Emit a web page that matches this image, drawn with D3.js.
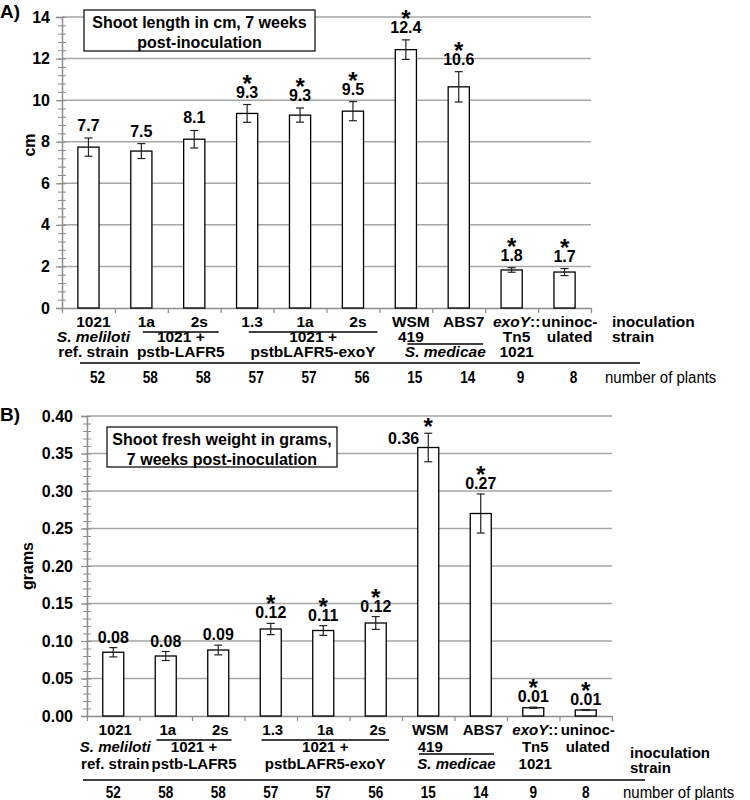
<!DOCTYPE html>
<html>
<head>
<meta charset="utf-8">
<script src="https://cdn.jsdelivr.net/npm/d3@7"></script>
<style>
  body { margin: 0; background: #fff; }
  svg text { font-family: "Liberation Sans", Arial, sans-serif; font-weight: bold; font-size: 16px; fill: #000; }
  svg text.val { font-size: 16px; }
</style>
</head>
<body>
<svg id="chart" width="750" height="800"></svg>
<script>
"use strict"

// x categories: label lines under each bar (*...* = italic)
const strainLines = [
  ["1021", "*S. meliloti*", "ref. strain"],
  ["1a"], ["2s"],
  ["1.3"], ["1a"], ["2s"],
  ["WSM", "419"],
  ["ABS7"],
  ["*exoY*::", "Tn5", "1021"],
  ["uninoc-", "ulated"]
]
// labels spanning several bars
const strainGroups = [
  {first: 1, last: 2, row: 1, lines: ["1021 +", "pstb-LAFR5"]},
  {first: 3, last: 5, row: 1, lines: ["1021 +", "pstbLAFR5-exoY"]},
  {first: 6, last: 7, row: 2, lines: ["*S. medicae*"]}
]
const plantCounts = [52, 58, 58, 57, 57, 56, 15, 14, 9, 8]
const significant = [false, false, false, true, true, true, true, true, true, true]

// A) shoot length, cm
const lengthMeans  = [7.74, 7.55, 8.12, 9.36, 9.28, 9.47, 12.43, 10.64, 1.83, 1.73]
const lengthErrors = [0.44, 0.36, 0.42, 0.43, 0.34, 0.46, 0.47, 0.73, 0.11, 0.17]
const lengthLabels = ["7.7", "7.5", "8.1", "9.3", "9.3", "9.5", "12.4", "10.6", "1.8", "1.7"]

// B) shoot fresh weight, grams
const weightMeans  = [0.085, 0.080, 0.088, 0.116, 0.114, 0.124, 0.358, 0.270, 0.011, 0.008]
const weightErrors = [0.0062, 0.006, 0.0065, 0.0075, 0.0065, 0.0085, 0.019, 0.026, 0.0008, 0.0006]
const weightLabels = ["0.08", "0.08", "0.09", "0.12", "0.11", "0.12", "0.36", "0.27", "0.01", "0.01"]

const svg = d3.select("#chart")

function richText(sel, str) {
  str.split("*").forEach((part, i) => {
    if (part) sel.append("tspan").text(part).style("font-style", i % 2 ? "italic" : "normal")
  })
}

function drawPanel(p) {
  const n = strainLines.length
  const x = d3.scaleBand().domain(d3.range(n)).range([p.left, p.right]).paddingInner(0.6).paddingOuter(0.3)
  const xEdge = d3.scaleLinear().domain([0, n]).range([p.left, p.right])
  const y = d3.scaleLinear().domain([0, p.max]).range([p.bottom, p.top])
  const cx = i => x(i) + x.bandwidth() / 2

  const majors = d3.range(0, Math.round(p.max / p.major) + 1).map(i => i * p.major)
  const minors = d3.range(0, Math.round(p.max / p.minor) + 1).map(i => i * p.minor)

  const g = svg.append("g")

  // gridlines
  g.append("g").selectAll("line")
    .data(majors.filter(v => v > 0))
    .join("line")
      .attr("x1", p.left).attr("x2", p.right)
      .attr("y1", d => y(d)).attr("y2", d => y(d))
      .attr("stroke", "#a6a6a6").attr("stroke-width", 1.5)

  // minor ticks crossing the axis
  g.append("g")
    .attr("transform", `translate(${p.left + 4},0)`)
    .call(d3.axisLeft(y).tickValues(minors).tickSize(8).tickFormat(""))
    .call(a => a.select(".domain").remove())
    .call(a => a.selectAll("line").attr("stroke", "#8c8c8c"))

  // major ticks + labels
  g.append("g")
    .attr("transform", `translate(${p.left},0)`)
    .call(d3.axisLeft(y).tickValues(majors).tickSize(6).tickPadding(p.tickPad).tickFormat(p.fmt))
    .call(a => a.select(".domain").attr("stroke", "#8c8c8c").attr("stroke-width", 1.5))
    .call(a => a.selectAll("line").attr("stroke", "#8c8c8c").attr("stroke-width", 1.2))
    .call(a => a.selectAll("text").attr("font-size", null).attr("font-family", null).style("font-size", "16px"))

  // x axis with ticks between categories
  g.append("g")
    .attr("transform", `translate(0,${p.bottom})`)
    .call(d3.axisBottom(xEdge).tickValues(d3.range(n + 1)).tickSize(5).tickSizeOuter(0).tickFormat(""))
    .call(a => a.select(".domain").attr("stroke", "#8c8c8c").attr("stroke-width", 1.5))
    .call(a => a.selectAll("line").attr("stroke", "#8c8c8c").attr("stroke-width", 1.2))

  // title box
  g.append("rect")
    .attr("x", p.box.x).attr("y", p.box.y).attr("width", p.box.w).attr("height", p.box.h)
    .attr("fill", "#fff").attr("stroke", "#000").attr("stroke-width", 1.2)
  g.append("g").selectAll("text")
    .data(p.box.lines)
    .join("text")
      .attr("x", p.box.x + p.box.w / 2)
      .attr("y", (d, i) => p.box.y + 18 + i * 20)
      .attr("text-anchor", "middle")
      .text(d => d)

  // panel letter and y title
  g.append("text").attr("x", 0).attr("y", p.letterY).style("font-size", "19px").text(p.letter)
  g.append("text")
    .attr("transform", `translate(${p.titleX},${p.titleY}) rotate(-90)`)
    .attr("text-anchor", "middle")
    .text(p.yTitle)

  // bars
  g.append("g").selectAll("rect")
    .data(p.means)
    .join("rect")
      .attr("x", (d, i) => x(i))
      .attr("y", d => y(d))
      .attr("width", x.bandwidth())
      .attr("height", d => y(0) - y(d))
      .attr("fill", "#fff").attr("stroke", "#000").attr("stroke-width", 1.3)

  // error bars
  const eb = g.append("g").attr("stroke", "#222").attr("stroke-width", 1.2)
  p.means.forEach((m, i) => {
    const e = p.errors[i]
    eb.append("line").attr("x1", cx(i)).attr("x2", cx(i)).attr("y1", y(m + e)).attr("y2", y(m - e))
    eb.append("line").attr("x1", cx(i) - 4).attr("x2", cx(i) + 4).attr("y1", y(m + e)).attr("y2", y(m + e))
    eb.append("line").attr("x1", cx(i) - 4).attr("x2", cx(i) + 4).attr("y1", y(m - e)).attr("y2", y(m - e))
  })

  // value labels and significance stars
  const star = (xx, yy) => g.append("text").attr("x", xx).attr("y", yy)
    .attr("text-anchor", "middle").style("font-size", "24px").text("*")
  p.means.forEach((m, i) => {
    const top = y(m + p.errors[i])
    const side = p.sideAbove != null && m + p.errors[i] > p.sideAbove
    if (side) {
      g.append("text").attr("class", "val").attr("x", cx(i) - 9).attr("y", top + 11)
        .attr("text-anchor", "end").text(p.labels[i])
      if (significant[i]) star(cx(i), top + 2)
    } else {
      const base = top - p.labelGap
      g.append("text").attr("class", "val").attr("x", cx(i)).attr("y", base)
        .attr("text-anchor", "middle").text(p.labels[i])
      if (significant[i]) star(cx(i), base - 6)
    }
  })

  const lab = sel => sel.style("font-size", p.labelSize + "px")

  // strain labels under each bar
  strainLines.forEach((lines, i) => {
    lines.forEach((s, r) => {
      g.append("text")
        .call(lab)
        .attr("x", cx(i) + p.labelShift)
        .attr("y", p.bottom + p.rows[r])
        .attr("text-anchor", "middle")
        .call(t => richText(t, s))
    })
  })

  // group labels with underline
  strainGroups.forEach(gr => {
    const x1 = xEdge(gr.first) + p.underL, x2 = xEdge(gr.last + 1) + p.underR
    const uy = p.bottom + p.under[gr.row - 1]
    g.append("line").attr("x1", x1).attr("x2", x2).attr("y1", uy).attr("y2", uy)
      .attr("stroke", "#000").attr("stroke-width", 1.3)
    gr.lines.forEach((s, k) => {
      g.append("text")
        .call(lab)
        .attr("x", (x1 + x2) / 2)
        .attr("y", p.bottom + p.rows[gr.row + k])
        .attr("text-anchor", "middle")
        .call(t => richText(t, s))
    })
  })

  g.append("g").selectAll("text")
    .data(["inoculation", "strain"])
    .join("text")
      .call(lab)
      .attr("x", p.right + p.inocDx)
      .attr("y", (d, k) => p.bottom + p.inocRows[k])
      .text(d => d)

  // number of plants
  g.append("line")
    .attr("x1", p.left + p.lineL).attr("x2", p.right + p.lineR)
    .attr("y1", p.bottom + p.lineY).attr("y2", p.bottom + p.lineY)
    .attr("stroke", "#000").attr("stroke-width", 1.5)
  g.append("g").selectAll("text")
    .data(plantCounts)
    .join("text")
      .attr("transform", (d, i) => `translate(${cx(i) + p.countShift},${p.bottom + p.countY}) scale(0.8,1)`)
      .attr("text-anchor", "middle")
      .style("font-size", "17px")
      .text(d => d)
  g.append("text")
    .attr("transform", `translate(${p.right + p.plantsDx},${p.bottom + p.countY}) scale(0.88,1)`)
    .style("font-weight", "normal")
    .style("font-size", "17px")
    .text("number of plants")
}

drawPanel({
  letter: "A)", letterY: 18, yTitle: "cm", titleX: 35, titleY: 145,
  means: lengthMeans, errors: lengthErrors, labels: lengthLabels,
  max: 14, major: 2, minor: 0.4, fmt: d3.format("d"), tickPad: 6,
  left: 62, right: 591, top: 17, bottom: 308,
  box: {x: 84, y: 10, w: 231, h: 41, lines: ["Shoot length in cm, 7 weeks", "post-inoculation"]},
  labelGap: 7, sideAbove: null, labelShift: 5, labelSize: 15.5,
  rows: [19, 34, 49], under: [24, 36], underL: 28, underR: -2,
  inocDx: 21, inocRows: [19, 34],
  lineL: 18, lineR: 49, lineY: 55, countY: 75, countShift: 9, plantsDx: 14
})

drawPanel({
  letter: "B)", letterY: 421, yTitle: "grams", titleX: 33, titleY: 566,
  means: weightMeans, errors: weightErrors, labels: weightLabels,
  max: 0.4, major: 0.05, minor: 0.01, fmt: d3.format(".2f"), tickPad: 8,
  left: 87, right: 612, top: 416, bottom: 716,
  box: {x: 107, y: 427, w: 230, h: 40, lines: ["Shoot fresh weight in grams,", "7 weeks post-inoculation"]},
  labelGap: 5, sideAbove: 0.35, labelShift: 2, labelSize: 15,
  rows: [19, 36, 53], under: [24, 38], underL: 17, underR: -13,
  inocDx: 18, inocRows: [42, 57],
  lineL: -4, lineR: 33, lineY: 64, countY: 82, countShift: 0, plantsDx: 11
})
</script>
</body>
</html>
